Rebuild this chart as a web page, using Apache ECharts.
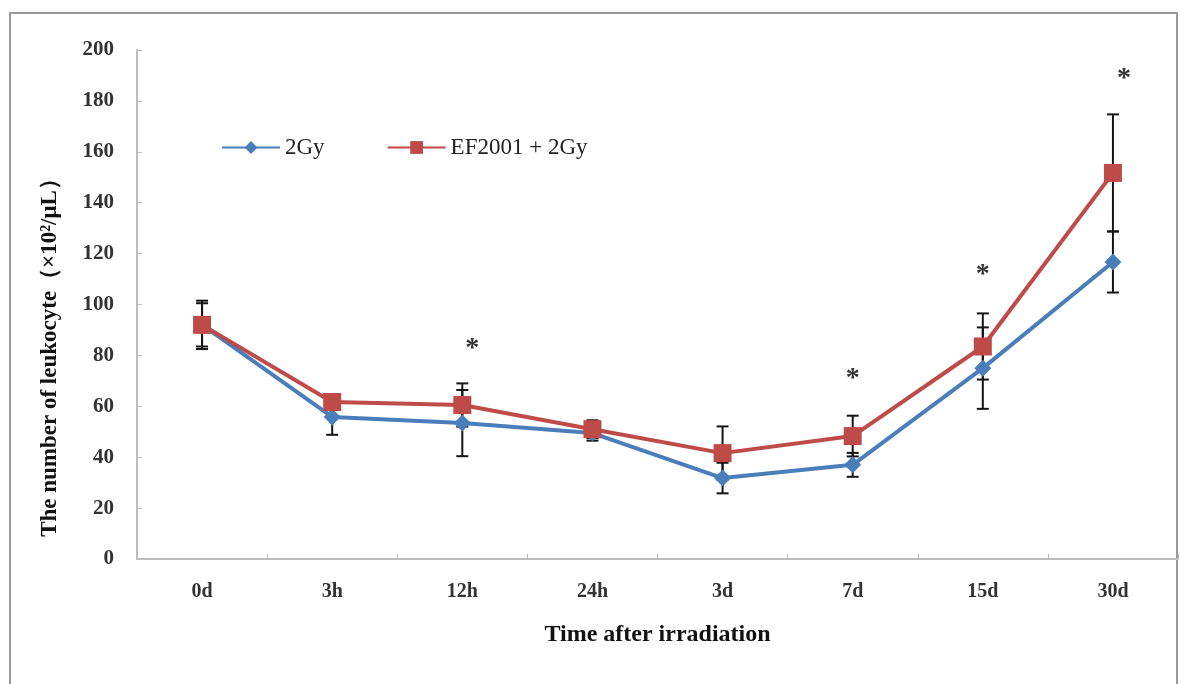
<!DOCTYPE html>
<html>
<head>
<meta charset="utf-8">
<script src="https://cdn.jsdelivr.net/npm/echarts@6/dist/echarts.min.js"></script>
<style>
html,body{margin:0;padding:0;background:#fff;}
#chart{width:1186px;height:684px;}
</style>
</head>
<body>
<div id="chart"></div>
<script>
const categories = ['0d', '3h', '12h', '24h', '3d', '7d', '15d', '30d'];
const mean2Gy = [92, 55.8, 53.4, 49.5, 31.8, 37, 75, 116.7];
const err2Gy = [8.5, 7, 13, 3, 6, 4.7, 16, 12];
const meanEF = [92, 61.7, 60.5, 51, 41.6, 48.3, 83.5, 151.7];
const errEF = [9.5, 3, 8.5, 3.5, 10.5, 8, 13, 23];
const starCats = ['12h', '7d', '15d', '30d'];
const starValues = [85, 73, 114, 191];
const starShiftPx = [10, 0, 0, 11];
const yMin = 0, yMax = 200, yStep = 20;

const serif = '"Liberation Serif", "Times New Roman", serif';
const blue = '#4a7ebb';
const red = '#be4b48';

function errData(means, errs) {
  return means.map((m, i) => [i, m - errs[i], m + errs[i]]);
}

function errRender(params, api) {
  const x = api.value(0);
  const lo = api.coord([x, api.value(1)]);
  const hi = api.coord([x, api.value(2)]);
  const cw = 6;
  const st = { stroke: '#151515', lineWidth: 2 };
  return {
    type: 'group',
    children: [
      { type: 'line', shape: { x1: lo[0], y1: lo[1], x2: hi[0], y2: hi[1] }, style: st },
      { type: 'line', shape: { x1: lo[0] - cw, y1: lo[1], x2: lo[0] + cw, y2: lo[1] }, style: st },
      { type: 'line', shape: { x1: hi[0] - cw, y1: hi[1], x2: hi[0] + cw, y2: hi[1] }, style: st }
    ]
  };
}

const starData = starCats.map((c, i) => [categories.indexOf(c), starValues[i], starShiftPx[i]]);

const chart = echarts.init(document.getElementById('chart'), null, { renderer: 'canvas' });
chart.setOption({
  animation: false,
  backgroundColor: '#fff',
  grid: { left: 137, right: 8, top: 50, bottom: 125, containLabel: false },
  legend: {
    left: 216, top: 131,
    itemWidth: 58, itemHeight: 16, itemGap: 62,
    textStyle: { fontFamily: serif, fontSize: 23, color: '#222' },
    data: ['2Gy', 'EF2001 + 2Gy']
  },
  xAxis: {
    type: 'category',
    data: categories,
    boundaryGap: true,
    name: 'Time after irradiation',
    nameLocation: 'middle',
    nameGap: 64,
    nameTextStyle: { fontFamily: serif, fontSize: 24, fontWeight: 'bold', color: '#111' },
    axisLine: { lineStyle: { color: '#bdbdbd', width: 2 } },
    axisTick: { show: true, inside: true, length: 5, lineStyle: { color: '#bdbdbd' } },
    axisLabel: { fontFamily: serif, fontSize: 20, fontWeight: 'bold', color: '#333', margin: 23 },
    splitLine: { show: false }
  },
  yAxis: {
    type: 'value',
    min: yMin, max: yMax, interval: yStep,
    axisLine: { show: true, lineStyle: { color: '#bdbdbd', width: 2 } },
    axisTick: { show: true, inside: true, length: 5, lineStyle: { color: '#bdbdbd' } },
    axisLabel: { fontFamily: serif, fontSize: 21, fontWeight: 'bold', color: '#333', margin: 23 },
    splitLine: { show: false }
  },
  graphic: [
    {
      type: 'rect', silent: true, z: -1,
      shape: { x: 10, y: 13, width: 1167, height: 700 },
      style: { fill: 'none', stroke: '#9a9a9a', lineWidth: 2 }
    },
    {
      type: 'text', silent: true,
      x: 50, y: 352, rotation: Math.PI / 2,
      style: {
        text: 'The number of leukocyte（×10²/μL）',
        fontFamily: serif, fontSize: 23, fontWeight: 'bold', fill: '#111',
        align: 'center', verticalAlign: 'middle'
      }
    }
  ],
  series: [
    {
      type: 'custom', name: 'err2Gy', z: 1,
      renderItem: errRender, data: errData(mean2Gy, err2Gy), silent: true
    },
    {
      type: 'custom', name: 'errEF', z: 1,
      renderItem: errRender, data: errData(meanEF, errEF), silent: true
    },
    {
      name: '2Gy', type: 'line', data: mean2Gy, z: 3,
      symbol: 'diamond', symbolSize: 17, showAllSymbol: true,
      lineStyle: { color: blue, width: 4 },
      itemStyle: { color: blue, borderWidth: 0 }
    },
    {
      name: 'EF2001 + 2Gy', type: 'line', data: meanEF, z: 4,
      symbol: 'rect', symbolSize: 18, showAllSymbol: true,
      lineStyle: { color: red, width: 4 },
      itemStyle: { color: red, borderWidth: 0 }
    },
    {
      type: 'custom', name: 'stars', z: 5, silent: true,
      data: starData,
      renderItem: function (params, api) {
        const p = api.coord([api.value(0), api.value(1)]);
        return {
          type: 'text',
          x: p[0] + api.value(2), y: p[1] + 6,
          style: {
            text: '*', fontFamily: serif, fontSize: 28, fontWeight: 'bold', fill: '#333',
            align: 'center', verticalAlign: 'middle'
          }
        };
      }
    }
  ]
});
</script>
</body>
</html>
